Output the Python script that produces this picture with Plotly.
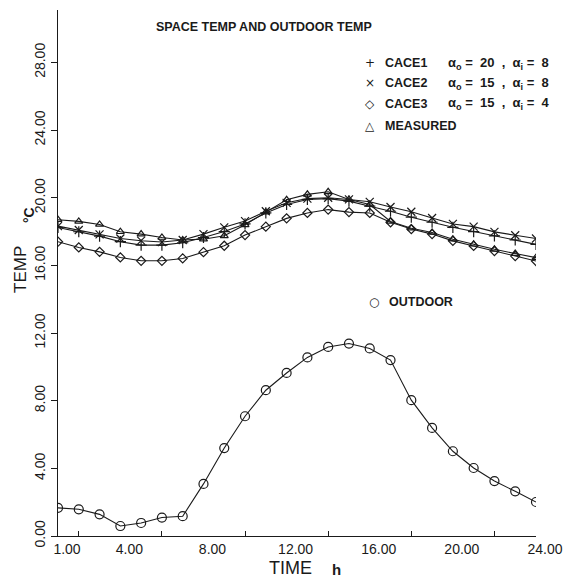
import plotly.graph_objects as go

# ---------------- data ----------------
hours = list(range(1, 25))

cace1 = [18.24, 17.99, 17.73, 17.40, 17.20, 17.20, 17.34, 17.65, 18.00, 18.45,
         19.10, 19.60, 19.90, 19.95, 19.80, 19.50, 19.20, 18.85, 18.55, 18.25,
         18.00, 17.75, 17.50, 17.24]
cace2 = [18.32, 18.09, 17.83, 17.59, 17.46, 17.38, 17.50, 17.85, 18.25, 18.62,
         19.20, 19.70, 19.95, 20.00, 19.90, 19.76, 19.45, 19.17, 18.80, 18.45,
         18.29, 17.98, 17.78, 17.59]
cace3 = [17.40, 17.06, 16.80, 16.47, 16.27, 16.27, 16.41, 16.78, 17.16, 17.79,
         18.29, 18.78, 19.10, 19.30, 19.15, 19.10, 18.55, 18.15, 17.85, 17.45,
         17.15, 16.85, 16.55, 16.26]
measured = [18.70, 18.60, 18.42, 17.99, 17.85, 17.65, 17.50, 17.55, 17.75, 18.40,
            19.15, 19.88, 20.20, 20.35, 19.90, 19.60, 18.60, 18.20, 17.95, 17.55,
            17.25, 16.95, 16.70, 16.46]
outdoor = [1.66, 1.58, 1.28, 0.59, 0.77, 1.09, 1.17, 3.08, 5.20, 7.08,
           8.62, 9.64, 10.56, 11.18, 11.38, 11.09, 10.40, 8.03, 6.39, 5.01,
           4.02, 3.25, 2.64, 2.01]

x_ticks = [1, 4, 8, 12, 16, 20, 24]
x_ticklabels = ["1.00", "4.00", "8.00", "12.00", "16.00", "20.00", "24.00"]
x_minor_ticks = [2, 6, 10, 14, 18, 22]
y_ticks = [0, 4, 8, 12, 16, 20, 24, 28]
y_ticklabels = ["0.00", "4.00", "8.00", "12.00", "16.00", "20.00", "24.00", "28.00"]

title_text = "SPACE TEMP AND OUTDOOR TEMP"
NB = "\u00a0"
S2 = NB * 2
legend_rows = [
    ("+", "CACE1", f"α<sub>o</sub>{NB}={S2}20{S2},{S2}α<sub>i</sub>{NB}={S2}8"),
    ("×", "CACE2", f"α<sub>o</sub>{NB}={S2}15{S2},{S2}α<sub>i</sub>{NB}={S2}8"),
    ("◇", "CACE3", f"α<sub>o</sub>{NB}={S2}15{S2},{S2}α<sub>i</sub>{NB}={S2}4"),
    ("△", "MEASURED", ""),
]
outdoor_label = ("○", "OUTDOOR")

# ---------------- layout geometry ----------------
# page body has an 8px margin; positions below are given in window pixels
O = 8
W, H = 573, 570
L, R, T, B = 50, 45, 2, 42
PW, PH = W - L - R, H - T - B

def fx(p):
    return (p - O - L) / PW

def fy(p):
    return (H - B - (p - O)) / PH

INK = "#1a1a1a"
FONT = "Liberation Sans"

fig = go.Figure()

series = [
    (cace1, "cross-thin-open", 8),
    (cace2, "x-thin-open", 8),
    (cace3, "diamond-open", 7),
    (measured, "triangle-up-open", 7),
    (outdoor, "circle-open", 9),
]
for vals, sym, size in series:
    fig.add_trace(go.Scatter(
        x=hours, y=vals, mode="lines+markers",
        line=dict(color=INK, width=1.1),
        marker=dict(symbol=sym, size=size, color=INK, line=dict(color=INK, width=1.2)),
        showlegend=False, hoverinfo="skip",
    ))

ann = []
ann.append(dict(x=fx(264), y=fy(27), xref="paper", yref="paper", text=f"<b>{title_text}</b>",
                showarrow=False, font=dict(family=FONT, size=12.5, color=INK),
                xanchor="center", yanchor="middle"))
row_y = [63, 83, 104, 126]
for (sym, name, alpha), yy in zip(legend_rows, row_y):
    ann.append(dict(x=fx(370), y=fy(yy), xref="paper", yref="paper", text=sym,
                    showarrow=False, font=dict(family="DejaVu Sans", size=12, color=INK),
                    xanchor="center", yanchor="middle"))
    ann.append(dict(x=fx(383), y=fy(yy), xref="paper", yref="paper", text=f"<b>{name}</b>",
                    showarrow=False, font=dict(family=FONT, size=12.5, color=INK),
                    xanchor="left", yanchor="middle"))
    if alpha:
        ann.append(dict(x=fx(446), y=fy(yy), xref="paper", yref="paper", text=f"<b>{alpha}</b>",
                        showarrow=False, font=dict(family=FONT, size=13, color=INK),
                        xanchor="left", yanchor="middle"))
ann.append(dict(x=fx(374), y=fy(302), xref="paper", yref="paper", text=outdoor_label[0],
                showarrow=False, font=dict(family="DejaVu Sans", size=12, color=INK),
                xanchor="center", yanchor="middle"))
ann.append(dict(x=fx(387), y=fy(302), xref="paper", yref="paper", text=f"<b>{outdoor_label[1]}</b>",
                showarrow=False, font=dict(family=FONT, size=12.5, color=INK),
                xanchor="left", yanchor="middle"))
# y axis title
ann.append(dict(x=fx(20), y=fy(270), xref="paper", yref="paper", text="TEMP",
                showarrow=False, textangle=-90, font=dict(family=FONT, size=17, color=INK),
                xanchor="center", yanchor="middle"))
ann.append(dict(x=fx(29), y=fy(215), xref="paper", yref="paper", text="<b>°C</b>",
                showarrow=False, textangle=-90, font=dict(family=FONT, size=14, color=INK),
                xanchor="center", yanchor="middle"))
# x axis title
ann.append(dict(x=fx(290), y=fy(568), xref="paper", yref="paper", text="TIME",
                showarrow=False, font=dict(family=FONT, size=18, color=INK),
                xanchor="center", yanchor="middle"))
ann.append(dict(x=fx(336), y=fy(569), xref="paper", yref="paper", text="<b>h</b>",
                showarrow=False, font=dict(family=FONT, size=15, color=INK),
                xanchor="center", yanchor="middle"))

fig.update_layout(
    width=W, height=H, autosize=False,
    margin=dict(l=L, r=R, t=T, b=B, pad=0),
    paper_bgcolor="white", plot_bgcolor="white",
    annotations=ann,
    xaxis=dict(
        range=[1, 24], showgrid=False, zeroline=False,
        showline=True, linecolor=INK, linewidth=1.3,
        tickvals=x_ticks, ticktext=x_ticklabels, ticks="",
        ticklabelshift=9,
        minor=dict(tickvals=x_minor_ticks, ticks="inside", ticklen=5,
                   tickcolor=INK, tickwidth=1, showgrid=False),
        tickfont=dict(family=FONT, size=14, color=INK),
    ),
    yaxis=dict(
        range=[0, 31.1], showgrid=False, zeroline=False,
        showline=True, linecolor=INK, linewidth=1.3,
        tickvals=y_ticks, ticktext=y_ticklabels, ticks="outside", ticklen=6,
        tickcolor=INK, tickwidth=1, tickangle=-90,
        tickfont=dict(family=FONT, size=14, color=INK),
    ),
)

fig.write_html("out.html")
